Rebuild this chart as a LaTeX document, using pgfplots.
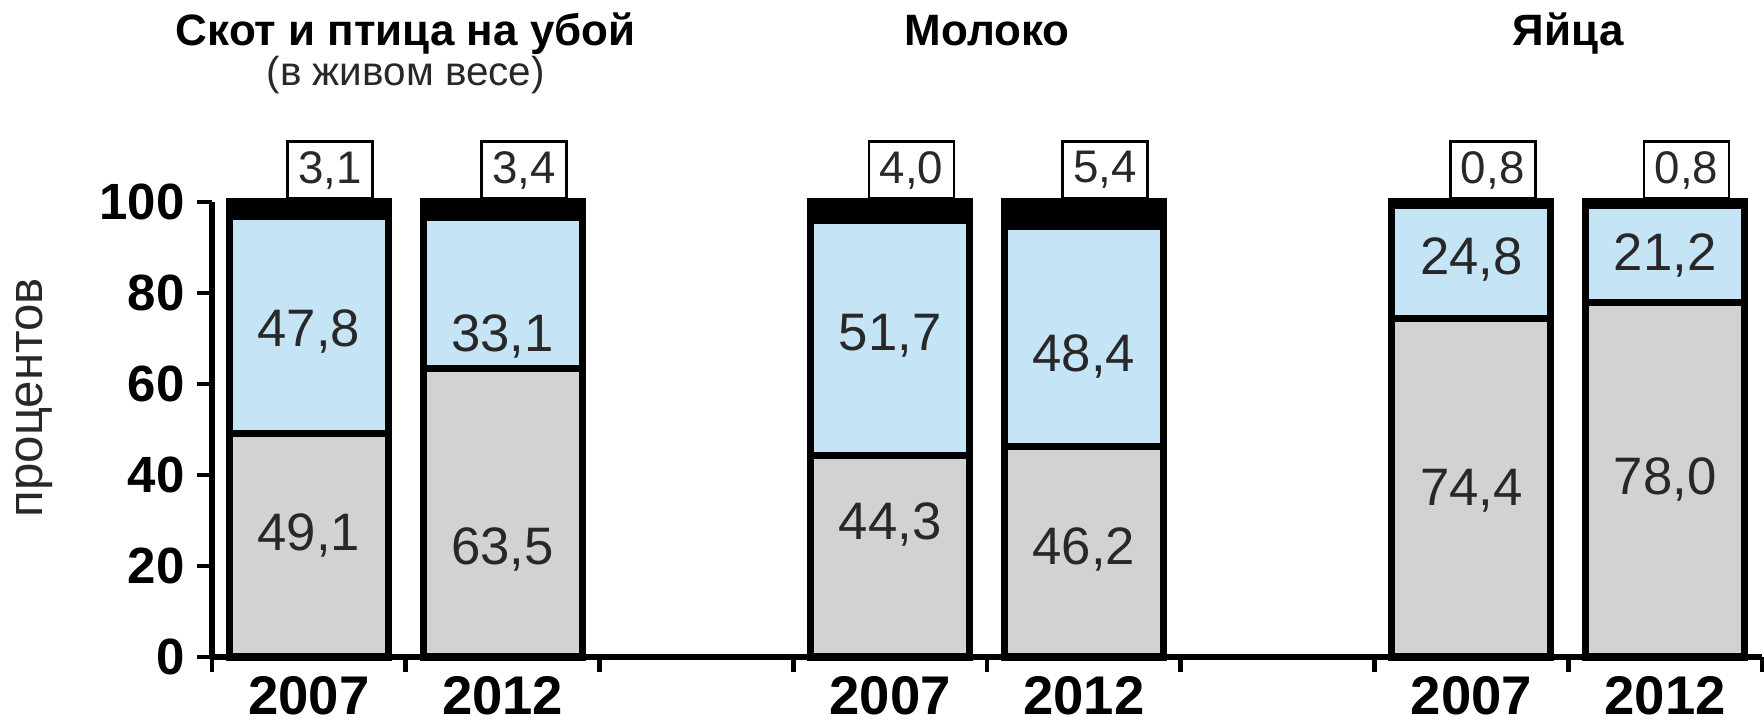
\documentclass[border=0pt]{standalone}
\usepackage{pgfplots}
\pgfplotsset{compat=1.18}
\usepackage{pgfplotstable}
\usepackage{fontspec}
\setmainfont{Liberation Sans}

\definecolor{barGray}{RGB}{208,210,212}
\definecolor{barBlue}{RGB}{197,228,246}
\definecolor{txt}{RGB}{40,40,40}

\tikzset{
  val/.style={font=\fontsize{15}{17}\selectfont, text=txt},
  topbox/.style={draw=black, line width=0.8pt, fill=white,
    minimum width=0.85cm, minimum height=0.57cm, inner sep=0pt,
    font=\fontsize{13}{15}\selectfont, text=txt},
  tit/.style={anchor=base, font=\fontsize{12.5}{14}\selectfont\bfseries},
}

% shares, percent: slaughter stock | milk | eggs, 2007 and 2012
\pgfplotstableread{
x  gray  blue  black
0  49.1  47.8  3.1
1  63.5  33.1  3.4
3  44.3  51.7  4.0
4  46.2  48.4  5.4
6  74.4  24.8  0.8
7  78.0  21.2  0.8
}\shares

% where the figures inside the bars stand
\pgfplotstableread{
x  y     label
0  26.8  49,1
1  23.7  63,5
0  71.5  47,8
1  70.5  33,1
3  29.2  44,3
4  23.7  46,2
3  70.5  51,7
4  66.1  48,4
6  36.6  74,4
7  39.1  78,0
6  87.3  24,8
7  88.3  21,2
}\vallabels

% boxed figures of the top segment
\pgfplotstableread{
x     y    label
0.11  100  3,1
1.11  100  3,4
3.11  100  4,0
4.11  100  5,4
6.11  100  0,8
7.11  100  0,8
}\toplabels

\begin{document}
\begin{tikzpicture}
\pgfplotsset{every axis/.append style={
    at={(0,0)}, anchor=south west,
    scale only axis,
    width=15.50cm, height=4.55cm,
    xmin=-0.5, xmax=7.5,
    ymin=0, ymax=100,
    clip=false}}
\begin{axis}[
    ybar stacked,
    bar width=0.82,
    axis x line=bottom, axis y line=left,
    axis line style={-, line width=1.5pt, black},
    tick align=outside,
    major tick length=0.15cm,
    tick style={line width=1.3pt, black},
    ytick={0,20,...,100},
    yticklabel style={font=\fontsize{14.5}{16}\selectfont\bfseries},
    /pgf/number format/assume math mode=true,
    xtick={-0.5,0.5,...,7.5},
    xticklabels={},
    extra x ticks={0,1,3,4,6,7},
    extra x tick labels={2007,2012,2007,2012,2007,2012},
    extra x tick style={major tick length=0pt,
        xticklabel style={font=\fontsize{15.5}{17}\selectfont\bfseries, yshift=-0.07cm}},
]
\addplot[fill=barGray, draw=black, line width=2pt] table[x=x, y=gray] {\shares};
\addplot[fill=barBlue, draw=black, line width=2pt] table[x=x, y=blue] {\shares};
\addplot[fill=black, draw=black, line width=2pt] table[x=x, y=black] {\shares};
\end{axis}

\begin{axis}[hide axis]
\addplot[draw=none, no markers, nodes near coords, point meta=explicit symbolic,
    every node near coord/.append style={val, anchor=center}]
    table[x=x, y=y, meta=label] {\vallabels};
\addplot[draw=none, no markers, nodes near coords, point meta=explicit symbolic,
    every node near coord/.append style={topbox, anchor=south, yshift=0.02cm}]
    table[x=x, y=y, meta=label] {\toplabels};

\node[tit] at (axis cs:0.5,134.3) {Скот и птица на убой};
\node[anchor=base, font=\fontsize{11.5}{13}\selectfont, text=txt] at (axis cs:0.5,125.6) {(в живом весе)};
\node[tit] at (axis cs:3.5,134.3) {Молоко};
\node[tit] at (axis cs:6.5,134.3) {Яйца};
\node[rotate=90, font=\fontsize{14}{16}\selectfont, text=txt] at (axis cs:-1.415,57) {процентов};
\end{axis}
\pgfresetboundingbox
\path[use as bounding box] (-2.12cm,-0.67cm) rectangle (15.52cm,6.57cm);
\end{tikzpicture}
\end{document}
